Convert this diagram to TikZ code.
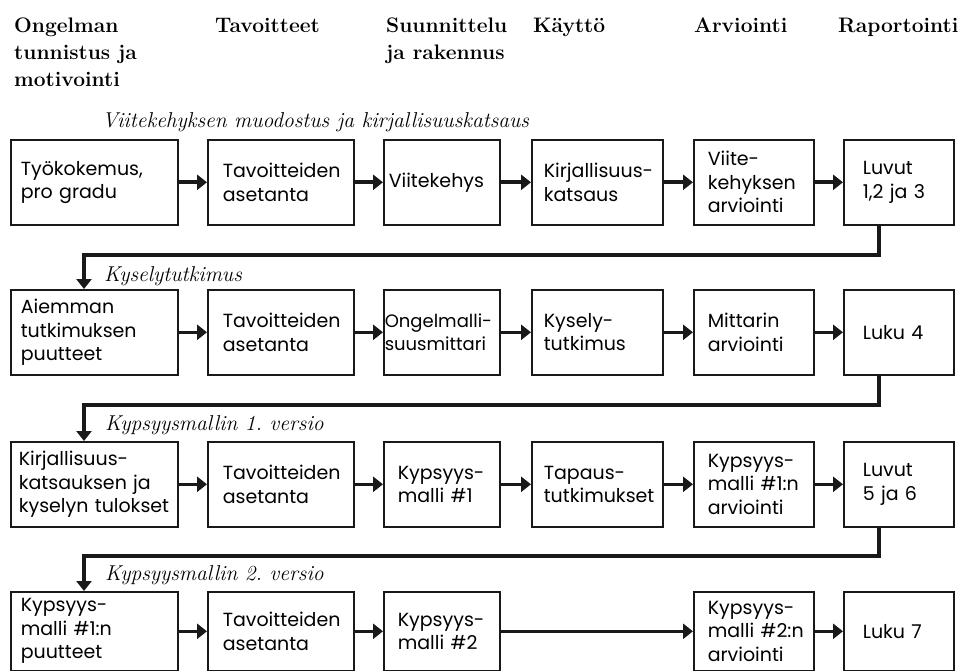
\documentclass[tikz,border=0pt]{standalone}
\usepackage{fontspec}
\newfontfamily\boxfont{Poppins}
\usetikzlibrary{arrows.meta}
\hyphenpenalty=10000
\exhyphenpenalty=10000
\frenchspacing

\tikzset{
  box/.style={draw=black!90, line width=1.6pt, rectangle, anchor=north west,
    minimum height=85pt, inner ysep=0pt, align=left,
    font=\boxfont\fontsize{19}{23.5}\selectfont},
  c1/.style={inner xsep=10pt, text width=147pt},
  c2/.style={inner xsep=15pt, text width=116pt},
  c3/.style={inner xsep=14pt, text width=88pt},
  c4/.style={inner xsep=12pt, text width=107pt},
  c5/.style={inner xsep=14pt, text width=92pt},
  c6/.style={inner xsep=19pt, text width=72pt},
  phase/.style={anchor=north west, inner sep=0pt, align=left,
    font=\bfseries\fontsize{21}{27}\selectfont},
  stage/.style={anchor=base west, inner sep=0pt,
    font=\itshape\fontsize{21.5}{24}\selectfont},
  flow/.style={line width=3.6pt, draw=black!90,
    -{Triangle[length=10pt,width=15pt]}}
}

\begin{document}
\begin{tikzpicture}[x=1pt,y=-1pt]
\useasboundingbox (0,0) rectangle (961,671);

% column headings
\node[phase] (h1) at (14,18) {Ongelman\\tunnistus~ja\\motivointi};
\node[phase] (h2) at (215,18) {Tavoitteet};
\node[phase] (h3) at (386,18) {Suunnittelu\\ja~rakennus};
\node[phase] (h4) at (533,18) {Käyttö};
\node[phase] (h5) at (694,18) {Arviointi};
\node[phase] (h6) at (838,18) {Raportointi};

% iteration titles
\node[stage] (s1) at (102,128) {Viitekehyksen muodostus ja kirjallisuuskatsaus};
\node[stage] (s2) at (104,281) {Kyselytutkimus};
\node[stage] (s3) at (105,430) {Kypsyysmallin 1. versio};
\node[stage] (s4) at (105,580) {Kypsyysmallin 2. versio};

% row 1
\node[box,c1] (r1c1) at (10,139) {Työkokemus,\\pro~gradu};
\node[box,c2] (r1c2) at (207,139) {Tavoitteiden\\asetanta};
\node[box,c3,inner xsep=5pt,text width=106pt] (r1c3) at (383,139) {Viitekehys};
\node[box,c4] (r1c4) at (531,139) {Kirjallisuus-\\katsaus};
\node[box,c5] (r1c5) at (693,139) {Viite-\\kehyksen\\arviointi};
\node[box,c6] (r1c6) at (843,139) {Luvut\\1,2~ja~3};

% row 2
\node[box,c1] (r2c1) at (10,289) {Aiemman\\tutkimuksen\\puutteet};
\node[box,c2] (r2c2) at (207,289) {Tavoitteiden\\asetanta};
\node[box,c3,inner xsep=1pt,text width=114pt,
      font=\boxfont\fontsize{18}{23.5}\selectfont] (r2c3) at (383,289) {Ongelmalli-\\suusmittari};
\node[box,c4] (r2c4) at (531,289) {Kysely-\\tutkimus};
\node[box,c5] (r2c5) at (693,289) {Mittarin\\arviointi};
\node[box,c6] (r2c6) at (843,289) {Luku~4};

% row 3
\node[box,c1,inner xsep=8pt,text width=151pt] (r3c1) at (10,441) {Kirjallisuus-\\katsauksen~ja\\kyselyn~tulokset};
\node[box,c2] (r3c2) at (207,441) {Tavoitteiden\\asetanta};
\node[box,c3] (r3c3) at (383,441) {Kypsyys-\\malli~\#1};
\node[box,c4] (r3c4) at (531,441) {Tapaus-\\tutkimukset};
\node[box,c5] (r3c5) at (693,441) {Kypsyys-\\malli~\#1:n\\arviointi};
\node[box,c6] (r3c6) at (843,441) {Luvut\\5~ja~6};

% row 4
\node[box,c1,minimum height=79pt] (r4c1) at (10,591) {Kypsyys-\\malli~\#1:n\\puutteet};
\node[box,c2,minimum height=79pt] (r4c2) at (207,591) {Tavoitteiden\\asetanta};
\node[box,c3,minimum height=79pt] (r4c3) at (383,591) {Kypsyys-\\malli~\#2};
\node[box,c5,minimum height=79pt] (r4c5) at (693,591) {Kypsyys-\\malli~\#2:n\\arviointi};
\node[box,c6,minimum height=79pt] (r4c6) at (843,591) {Luku~7};

% arrows within rows
\foreach \r in {1,2,3}{
  \draw[flow] (r\r c1) -- (r\r c2);
  \draw[flow] (r\r c2) -- (r\r c3);
  \draw[flow] (r\r c3) -- (r\r c4);
  \draw[flow] (r\r c4) -- (r\r c5);
  \draw[flow] (r\r c5) -- (r\r c6);
}
\draw[flow] (r4c1) -- (r4c2);
\draw[flow] (r4c2) -- (r4c3);
\draw[flow] (r4c3) -- (r4c5);
\draw[flow] (r4c5) -- (r4c6);

% return lines to the next iteration
\coordinate (d1) at (879,255);  \coordinate (k1) at (84,255);
\coordinate (d2) at (879,405);  \coordinate (k2) at (84,405);
\coordinate (d3) at (879,556);  \coordinate (k3) at (84,556);
\draw[flow] (r1c6.south -| d1) -- (d1) -- (k1) -- (r2c1.north -| k1);
\draw[flow] (r2c6.south -| d2) -- (d2) -- (k2) -- (r3c1.north -| k2);
\draw[flow] (r3c6.south -| d3) -- (d3) -- (k3) -- (r4c1.north -| k3);
\end{tikzpicture}
\end{document}
